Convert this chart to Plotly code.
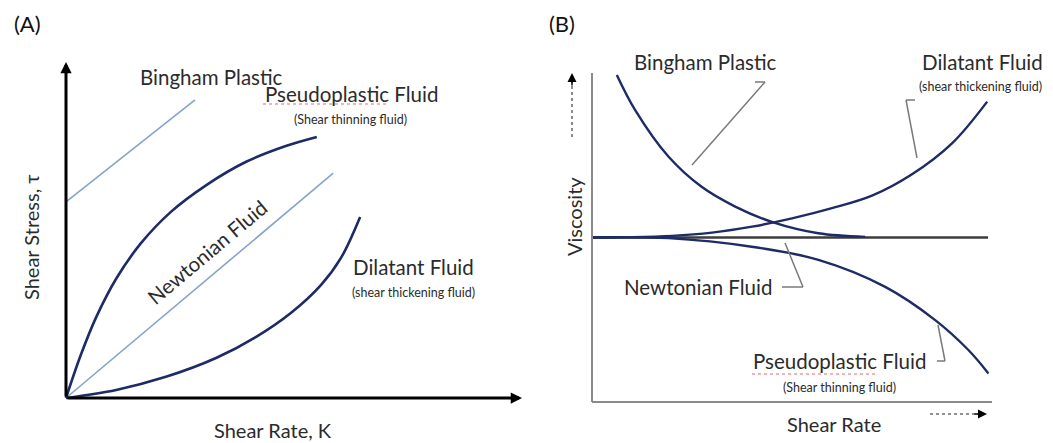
import plotly.graph_objects as go

# ---------------- data ----------------
# Panel A: shear stress vs shear rate (arbitrary units, 0-10)
a_pseudo_x = [0.0, 0.33, 0.66, 1.10, 1.64, 2.30, 3.07, 3.95, 4.82, 5.50]
a_pseudo_y = [0.0, 1.30, 2.40, 3.55, 4.60, 5.54, 6.33, 7.03, 7.50, 7.77]
a_newton_x = [0.0, 5.86]
a_newton_y = [0.0, 6.69]
a_bingham_x = [0.0, 2.83]
a_bingham_y = [5.84, 8.87]
a_dilat_x = [0.0, 1.10, 2.19, 3.29, 4.17, 4.93, 5.59, 6.03, 6.45]
a_dilat_y = [0.0, 0.24, 0.63, 1.19, 1.82, 2.53, 3.36, 4.17, 5.39]

# Panel B: viscosity vs shear rate (arbitrary units, 0-10)
b_newton_x = [0.0, 9.9]
b_newton_y = [5.0, 5.0]
b_bingham_x = [0.62, 1.08, 1.91, 2.74, 3.58, 4.53, 5.66, 6.83]
b_bingham_y = [9.94, 8.87, 7.46, 6.54, 5.94, 5.46, 5.13, 5.02]
b_dilat_x = [0.0, 1.0, 2.0, 3.0, 4.0, 5.0, 6.0, 7.0, 8.0, 9.0, 9.88]
b_dilat_y = [5.0, 5.01, 5.05, 5.15, 5.33, 5.58, 5.89, 6.27, 6.92, 7.86, 9.13]
b_pseudo_x = [0.0, 1.91, 3.99, 5.66, 7.33, 8.58, 9.41, 9.91]
b_pseudo_y = [5.0, 4.98, 4.72, 4.32, 3.50, 2.49, 1.58, 0.87]

# ---------------- layout geometry ----------------
W, H = 1053, 443
DARK = "#1d2b66"
LIGHT = "#86a3cb"
TEXT = "#2b2b2b"
GREY = "#8a8a8a"
FONT = "Lato"
BIG, SMALL, AXT = 20.5, 12.5, 20


def fx(p):
    return p / W


def fy(p):
    return 1 - p / H


def domains(x0, ux, y0, uy, lo=-0.5, hi=10.5):
    xd = [fx(x0 + lo * ux), fx(x0 + hi * ux)]
    yd = [fy(y0 - lo * uy), fy(y0 - hi * uy)]
    return xd, yd


a_xd, a_yd = domains(66, 45.6, 398, 33.6)
b_xd, b_yd = domains(592, 40.0, 402, 32.9)

fig = go.Figure()


def curve(x, y, color, width, xa, ya, spline=True):
    fig.add_trace(go.Scatter(
        x=x, y=y, mode="lines", xaxis=xa, yaxis=ya,
        line=dict(color=color, width=width,
                  shape="spline" if spline else "linear", smoothing=1.0),
        hoverinfo="skip", showlegend=False))


# Panel A curves
curve(a_bingham_x, a_bingham_y, LIGHT, 1.6, "x", "y", False)
curve(a_newton_x, a_newton_y, LIGHT, 1.6, "x", "y", False)
curve(a_pseudo_x, a_pseudo_y, DARK, 2.6, "x", "y")
curve(a_dilat_x, a_dilat_y, DARK, 2.6, "x", "y")

# Panel B curves
curve(b_newton_x, b_newton_y, "#3c3c3c", 2.4, "x2", "y2", False)
curve(b_bingham_x, b_bingham_y, DARK, 2.4, "x2", "y2")
curve(b_dilat_x, b_dilat_y, DARK, 2.4, "x2", "y2")
curve(b_pseudo_x, b_pseudo_y, DARK, 2.4, "x2", "y2")

shapes = []
annotations = []


def seg(x0, y0, x1, y1, color=GREY, width=1.5, dash="solid"):
    shapes.append(dict(type="line", xref="paper", yref="paper",
                       x0=fx(x0), y0=fy(y0), x1=fx(x1), y1=fy(y1),
                       line=dict(color=color, width=width, dash=dash)))


def poly(pts, color="#7a7a7a", width=1.5):
    for (x0, y0), (x1, y1) in zip(pts[:-1], pts[1:]):
        seg(x0, y0, x1, y1, color, width)


def label(x, y, text, size, angle=0, color=TEXT):
    annotations.append(dict(x=fx(x), y=fy(y), xref="paper", yref="paper",
                            text=text, showarrow=False, textangle=angle,
                            xanchor="center", yanchor="middle",
                            font=dict(family=FONT, size=size, color=color)))


def arrow_head(x, y, dx, dy, color="black", width=3, size=0.9):
    annotations.append(dict(x=fx(x), y=fy(y), xref="paper", yref="paper",
                            ax=dx, ay=dy, axref="pixel", ayref="pixel",
                            showarrow=True, arrowhead=2, arrowsize=size,
                            arrowwidth=width, arrowcolor=color, text=""))


# Panel A axes (black arrows)
arrow_head(522, 398, -456, 0, "black", 3, 0.75)
arrow_head(66, 62, 0, 336, "black", 3, 0.75)

# Panel B axes (grey frame lines) and small direction arrows
seg(592, 73, 592, 402, GREY, 2)
seg(592, 402, 992, 402, GREY, 2)
seg(572, 137, 572, 82, "#6e6e6e", 1.6, "dot")
arrow_head(572, 73, 0, 14, "black", 1.5, 1.2)
seg(930, 414, 978, 414, "#6e6e6e", 1.6, "dot")
arrow_head(987, 414, -14, 0, "black", 1.5, 1.2)

# Panel B leader lines
poly([(755, 82), (765, 82), (692, 165)])
poly([(915, 100), (906, 100), (917, 158)])
poly([(785, 243), (803, 287), (782, 287)])
poly([(938, 325), (945, 361), (937, 361)])

# spell-check underlines
seg(263, 104, 388, 104, "#e06a6a", 1, "dot")
seg(752, 374, 878, 374, "#e06a6a", 1, "dot")

# Panel letters
label(27, 24, "(A)", 22, color="#111")
label(562, 24, "(B)", 22, color="#111")

# Panel A labels
label(211, 77, "Bingham Plastic", BIG)
label(351, 94, "Pseudoplastic Fluid", BIG)
label(350, 119, "(Shear thinning fluid)", SMALL)
label(207, 252, "Newtonian Fluid", BIG, angle=-40)
label(413, 267, "Dilatant Fluid", BIG)
label(413, 292, "(shear thickening fluid)", SMALL)
label(273, 430, "Shear Rate, K", AXT)
label(31, 237, "Shear Stress, τ", AXT, angle=-90)

# Panel B labels
label(705, 62, "Bingham Plastic", BIG)
label(982, 62, "Dilatant Fluid", BIG)
label(980, 87, "(shear thickening fluid)", SMALL)
label(698, 287, "Newtonian Fluid", BIG)
label(839, 361, "Pseudoplastic Fluid", BIG)
label(839, 387, "(Shear thinning fluid)", SMALL)
label(834, 424, "Shear Rate", AXT)
label(574, 217, "Viscosity", AXT, angle=-90)

hidden = dict(visible=False, range=[-0.5, 10.5], fixedrange=True)
fig.update_layout(
    width=W, height=H,
    margin=dict(l=0, r=0, t=0, b=0),
    paper_bgcolor="white", plot_bgcolor="rgba(0,0,0,0)",
    xaxis=dict(hidden, domain=a_xd),
    yaxis=dict(hidden, domain=a_yd),
    xaxis2=dict(hidden, domain=b_xd, anchor="y2"),
    yaxis2=dict(hidden, domain=b_yd, anchor="x2"),
    shapes=shapes,
    annotations=annotations,
    showlegend=False,
)

fig.write_html("out.html")
